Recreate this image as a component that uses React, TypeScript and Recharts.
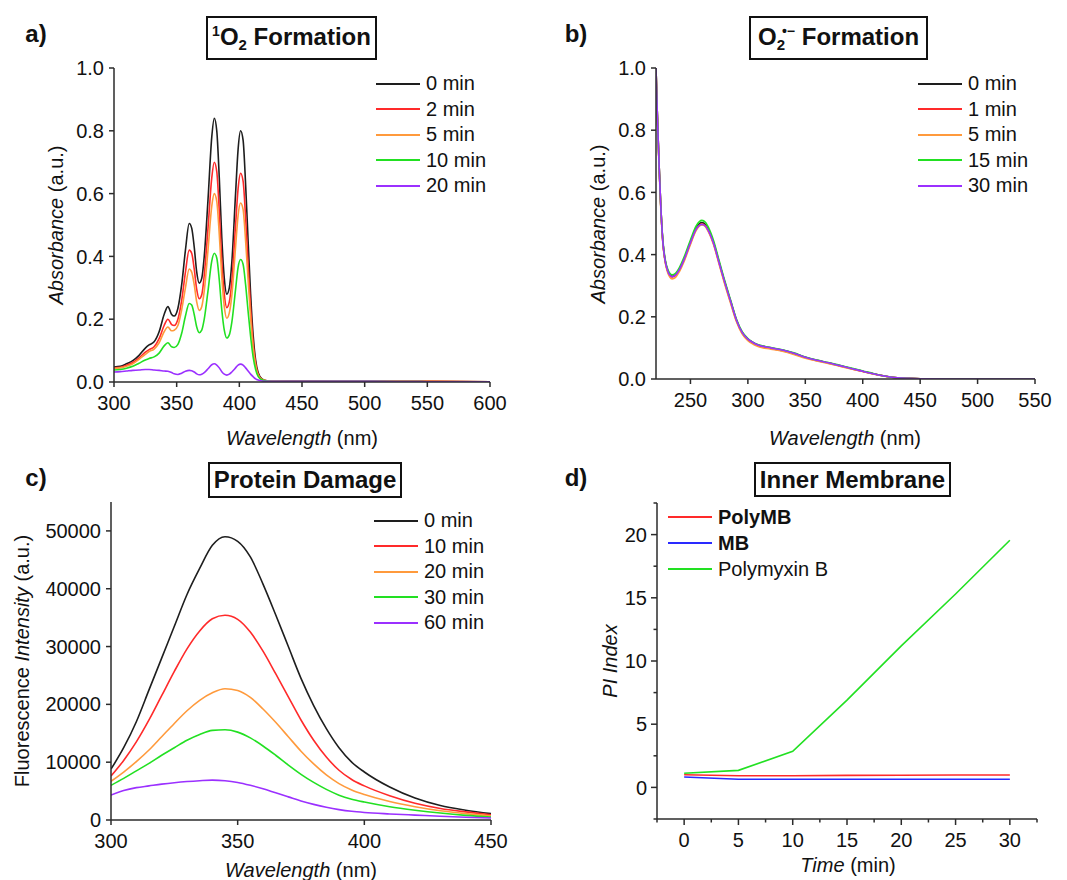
import React from "react";
import { LineChart, Line, XAxis, YAxis, Legend } from "recharts";

const FONT = '"Liberation Sans", Arial, Helvetica, sans-serif';
const AX = "#2b2b2b";

// ---------- a) 1O2 formation ----------
const A_WL = [300, 305, 310, 315, 320, 325, 328, 332, 336, 340, 343, 346, 348, 351, 354, 357, 360, 362, 364, 366, 368, 370, 372, 375, 378, 380, 382, 384, 386, 388, 390, 392, 394, 397, 399, 401, 403, 405, 407, 409, 411, 413, 415, 418, 422, 430, 450, 500, 550, 600];
const A_T0 = [0.048, 0.05, 0.058, 0.068, 0.085, 0.108, 0.118, 0.128, 0.16, 0.215, 0.24, 0.215, 0.21, 0.235, 0.31, 0.42, 0.505, 0.49, 0.43, 0.35, 0.315, 0.33, 0.4, 0.58, 0.78, 0.84, 0.8, 0.65, 0.46, 0.33, 0.28, 0.3, 0.38, 0.6, 0.74, 0.8, 0.77, 0.63, 0.45, 0.28, 0.15, 0.07, 0.03, 0.01, 0.004, 0.003, 0.003, 0.002, 0.002, 0.001];
const A_T2 = [0.045, 0.047, 0.053, 0.062, 0.077, 0.095, 0.103, 0.112, 0.138, 0.18, 0.2, 0.183, 0.18, 0.2, 0.26, 0.35, 0.42, 0.41, 0.36, 0.295, 0.265, 0.278, 0.34, 0.49, 0.65, 0.7, 0.67, 0.545, 0.385, 0.28, 0.237, 0.255, 0.32, 0.5, 0.615, 0.665, 0.64, 0.525, 0.375, 0.235, 0.125, 0.06, 0.025, 0.009, 0.004, 0.003, 0.003, 0.002, 0.002, 0.001];
const A_T5 = [0.043, 0.045, 0.05, 0.058, 0.072, 0.088, 0.097, 0.105, 0.125, 0.16, 0.175, 0.163, 0.165, 0.18, 0.23, 0.3, 0.36, 0.35, 0.31, 0.255, 0.228, 0.24, 0.29, 0.42, 0.56, 0.6, 0.575, 0.47, 0.335, 0.24, 0.203, 0.22, 0.275, 0.43, 0.53, 0.57, 0.55, 0.45, 0.325, 0.205, 0.11, 0.052, 0.022, 0.008, 0.004, 0.003, 0.002, 0.002, 0.002, 0.001];
const A_T10 = [0.038, 0.04, 0.044, 0.05, 0.06, 0.07, 0.075, 0.08, 0.092, 0.115, 0.125, 0.112, 0.11, 0.12, 0.155, 0.21, 0.25, 0.245, 0.215, 0.175, 0.157, 0.165, 0.2, 0.29, 0.385, 0.41, 0.395, 0.325, 0.23, 0.165, 0.14, 0.15, 0.19, 0.295, 0.365, 0.39, 0.375, 0.31, 0.225, 0.145, 0.08, 0.04, 0.018, 0.007, 0.003, 0.002, 0.002, 0.002, 0.001, 0.001];
const A_T20 = [0.032, 0.033, 0.035, 0.037, 0.038, 0.04, 0.04, 0.038, 0.037, 0.035, 0.034, 0.03, 0.026, 0.024, 0.028, 0.034, 0.037, 0.036, 0.032, 0.026, 0.023, 0.025, 0.03, 0.042, 0.055, 0.058, 0.054, 0.045, 0.033, 0.025, 0.022, 0.025, 0.032, 0.045, 0.054, 0.057, 0.054, 0.045, 0.035, 0.025, 0.017, 0.01, 0.006, 0.003, 0.002, 0.002, 0.002, 0.002, 0.001, 0.001];
const A_LABELS = ["0 min", "2 min", "5 min", "10 min", "20 min"];
const A_XTICKS = [300, 350, 400, 450, 500, 550, 600];

// ---------- b) O2•− formation ----------
const B_WL = [220, 221, 222, 223, 224, 226, 228, 230, 232, 234, 237, 240, 245, 250, 255, 260, 263, 265, 270, 275, 280, 285, 290, 295, 300, 305, 310, 320, 330, 340, 350, 360, 370, 380, 390, 400, 410, 420, 430, 440, 450, 500, 550];
const B_T0 = [1.0, 0.87, 0.76, 0.66, 0.57, 0.44, 0.38, 0.35, 0.335, 0.33, 0.335, 0.35, 0.39, 0.44, 0.485, 0.503, 0.497, 0.485, 0.44, 0.375, 0.31, 0.25, 0.19, 0.15, 0.128, 0.116, 0.108, 0.1, 0.093, 0.083, 0.07, 0.06, 0.052, 0.043, 0.034, 0.025, 0.016, 0.009, 0.004, 0.002, 0.001, 0.0, 0.0];
const B_T1 = [1.0, 0.87, 0.76, 0.66, 0.57, 0.44, 0.38, 0.349, 0.333, 0.328, 0.333, 0.348, 0.388, 0.437, 0.481, 0.498, 0.493, 0.481, 0.437, 0.372, 0.307, 0.247, 0.188, 0.148, 0.126, 0.114, 0.106, 0.098, 0.091, 0.081, 0.069, 0.059, 0.051, 0.042, 0.033, 0.024, 0.016, 0.009, 0.004, 0.002, 0.001, 0.0, 0.0];
const B_T5 = [1.0, 0.86, 0.75, 0.65, 0.56, 0.435, 0.375, 0.344, 0.328, 0.322, 0.327, 0.343, 0.383, 0.433, 0.478, 0.495, 0.49, 0.478, 0.433, 0.368, 0.303, 0.243, 0.185, 0.145, 0.123, 0.111, 0.103, 0.096, 0.089, 0.079, 0.067, 0.058, 0.05, 0.041, 0.032, 0.024, 0.015, 0.008, 0.004, 0.002, 0.001, 0.0, 0.0];
const B_T15 = [1.0, 0.87, 0.76, 0.66, 0.57, 0.445, 0.385, 0.355, 0.34, 0.335, 0.34, 0.356, 0.397, 0.447, 0.492, 0.51, 0.504, 0.492, 0.446, 0.38, 0.314, 0.253, 0.193, 0.152, 0.13, 0.117, 0.109, 0.101, 0.094, 0.084, 0.071, 0.061, 0.053, 0.044, 0.035, 0.026, 0.017, 0.009, 0.004, 0.002, 0.001, 0.0, 0.0];
const B_T30 = [1.0, 0.87, 0.76, 0.66, 0.57, 0.44, 0.38, 0.35, 0.334, 0.329, 0.334, 0.349, 0.389, 0.438, 0.482, 0.497, 0.492, 0.481, 0.437, 0.373, 0.309, 0.249, 0.19, 0.15, 0.128, 0.116, 0.108, 0.1, 0.093, 0.083, 0.07, 0.06, 0.052, 0.043, 0.034, 0.025, 0.016, 0.009, 0.004, 0.002, 0.001, 0.0, 0.0];
const B_LABELS = ["0 min", "1 min", "5 min", "15 min", "30 min"];
const B_XTICKS = [250, 300, 350, 400, 450, 500, 550];

const ABS_YTICKS = [0, 0.2, 0.4, 0.6, 0.8, 1.0];

// ---------- c) protein damage ----------
const C_WL = [300, 305, 310, 315, 320, 325, 330, 335, 340, 345, 350, 355, 360, 365, 370, 375, 380, 385, 390, 395, 400, 410, 420, 430, 440, 450];
const C_T0 = [8800, 12500, 17000, 22500, 28000, 33500, 39000, 43500, 47500, 49000, 48200, 45500, 40800, 35500, 30000, 24500, 19800, 15800, 12500, 10000, 8300, 5700, 3800, 2500, 1700, 1100];
const C_T10 = [7600, 10300, 13500, 17300, 21500, 25700, 29600, 32700, 34800, 35400, 34700, 32500, 29200, 25300, 21300, 17300, 13800, 10900, 8600, 7000, 5900, 4200, 2900, 2000, 1400, 900];
const C_T20 = [6700, 8300, 10100, 12100, 14400, 16700, 18900, 20700, 22000, 22700, 22400, 21200, 19200, 16900, 14400, 11900, 9700, 7800, 6300, 5200, 4400, 3200, 2300, 1600, 1100, 700];
const C_T30 = [6000, 7200, 8500, 9800, 11200, 12500, 13800, 14800, 15500, 15600, 15200, 14200, 12800, 11200, 9500, 7900, 6500, 5300, 4300, 3600, 3100, 2300, 1700, 1200, 800, 500];
const C_T60 = [4300, 5100, 5600, 5900, 6200, 6450, 6650, 6800, 6900, 6800, 6500, 6000, 5400, 4700, 4000, 3300, 2700, 2200, 1800, 1500, 1300, 1050, 850, 650, 480, 350];
const C_LABELS = ["0 min", "10 min", "20 min", "30 min", "60 min"];
const C_XTICKS = [300, 350, 400, 450];
const C_YTICKS = [0, 10000, 20000, 30000, 40000, 50000];

// ---------- d) inner membrane ----------
const D_TIME = [0, 5, 10, 15, 20, 25, 30];
const D_POLYMB = [1.0, 0.92, 0.92, 0.95, 0.96, 0.98, 0.98];
const D_MB = [0.82, 0.65, 0.64, 0.64, 0.64, 0.64, 0.64];
const D_POLYMYXIN = [1.12, 1.35, 2.85, 6.9, 11.2, 15.3, 19.55];
const D_LABELS = ["PolyMB", "MB", "Polymyxin B"];
const D_BOLD = ["PolyMB", "MB"];
const D_XTICKS = [-2.5, 0, 2.5, 5, 7.5, 10, 12.5, 15, 17.5, 20, 22.5, 25, 27.5, 30, 32.5];
const D_YTICKS = [-2.5, 0, 2.5, 5, 7.5, 10, 12.5, 15, 17.5, 20, 22.5];

const SPEC_COLORS = ["#1e1e1e", "#ff2a2a", "#ff9a3c", "#22e022", "#9b30ff"];
const D_COLORS = ["#ff2a2a", "#2a2aff", "#22e022"];

const toRows = (x: number[], series: number[][], xKey: string) =>
  x.map((v, i) => {
    const row: Record<string, number> = { [xKey]: v };
    series.forEach((s, k) => (row["s" + k] = s[i]));
    return row;
  });

const aData = toRows(A_WL, [A_T0, A_T2, A_T5, A_T10, A_T20], "wl");
const bData = toRows(B_WL, [B_T0, B_T1, B_T5, B_T15, B_T30], "wl");
const cData = toRows(C_WL, [C_T0, C_T10, C_T20, C_T30, C_T60], "wl");
const dData = toRows(D_TIME, [D_POLYMB, D_MB, D_POLYMYXIN], "t");

const tickStyle = { fontSize: 20, fill: "#111", fontFamily: FONT };
const axisLine = { stroke: AX, strokeWidth: 1.5 };
const tickLine = { stroke: AX, strokeWidth: 1.5 };

function LegendList({ labels, colors, rowH, bold = [] }: { labels: string[]; colors: string[]; rowH: number; bold?: string[] }) {
  return (
    <div style={{ fontFamily: FONT, fontSize: 20, color: "#111" }}>
      {labels.map((l, i) => (
        <div key={l} style={{ display: "flex", alignItems: "center", height: rowH, whiteSpace: "nowrap" }}>
          <span style={{ display: "inline-block", width: 44, borderTop: `2px solid ${colors[i]}`, marginRight: 6 }} />
          <span style={{ fontWeight: bold.includes(l) ? 700 : 400 }}>{l}</span>
        </div>
      ))}
    </div>
  );
}

function Txt({ x, y, rotate, size = 20, bold, children }: any) {
  return (
    <div
      style={{
        position: "absolute",
        left: x,
        top: y,
        transform: `translate(-50%, -50%)${rotate ? " rotate(-90deg)" : ""}`,
        whiteSpace: "nowrap",
        fontSize: size,
        fontWeight: bold ? 700 : 400,
        fontFamily: FONT,
        color: "#111",
        lineHeight: 1,
      }}
    >
      {children}
    </div>
  );
}

function TitleBox({ left, top, width, height, children }: any) {
  return (
    <div
      style={{
        position: "absolute",
        left,
        top,
        width,
        height,
        boxSizing: "border-box",
        border: "2.5px solid #111",
        display: "flex",
        alignItems: "center",
        justifyContent: "center",
        fontFamily: FONT,
        fontWeight: 700,
        fontSize: 24,
        color: "#111",
        background: "#fff",
      }}
    >
      {children}
    </div>
  );
}

const DTickX = (props: any) => {
  const { x, y, payload } = props;
  const v = payload.value;
  const major = Math.abs(v % 5) < 1e-6;
  return (
    <g>
      <line x1={x} x2={x} y1={y} y2={y + (major ? 6 : 3.5)} stroke={AX} strokeWidth={1.5} />
      {major && (
        <text x={x} y={y + 14} dy="0.71em" textAnchor="middle" {...tickStyle}>
          {v}
        </text>
      )}
    </g>
  );
};

const DTickY = (props: any) => {
  const { x, y, payload } = props;
  const v = payload.value;
  const major = Math.abs(v % 5) < 1e-6;
  return (
    <g>
      <line x1={x} x2={x - (major ? 6 : 3.5)} y1={y} y2={y} stroke={AX} strokeWidth={1.5} />
      {major && (
        <text x={x - 10} y={y} dy="0.355em" textAnchor="end" {...tickStyle}>
          {v}
        </text>
      )}
    </g>
  );
};

function SpectrumPanel({ data, labels, xDomain, xTicks, yDomain, yTicks, yFmt, yWidth, margin, legendPos, width, height }: any) {
  return (
    <LineChart width={width} height={height} data={data} margin={margin}>
      <XAxis
        dataKey="wl"
        type="number"
        domain={xDomain}
        ticks={xTicks}
        interval={0}
        allowDataOverflow
        tick={tickStyle}
        tickSize={5}
        tickMargin={9}
        axisLine={axisLine}
        tickLine={tickLine}
        height={30}
      />
      <XAxis xAxisId="top" orientation="top" dataKey="wl" type="number" domain={xDomain} tick={false} tickLine={false} axisLine={axisLine} height={0} />
      <YAxis
        type="number"
        domain={yDomain}
        ticks={yTicks}
        interval={0}
        allowDataOverflow
        tickFormatter={yFmt}
        tick={tickStyle}
        tickSize={5}
        tickMargin={5}
        axisLine={axisLine}
        tickLine={tickLine}
        width={yWidth}
      />
      <YAxis yAxisId="right" orientation="right" type="number" domain={yDomain} tick={false} tickLine={false} axisLine={axisLine} width={0} />
      {labels.map((l: string, i: number) => (
        <Line key={l} dataKey={"s" + i} name={l} type="monotone" stroke={SPEC_COLORS[i]} strokeWidth={1.6} dot={false} isAnimationActive={false} />
      ))}
      <Legend
        layout="horizontal"
        verticalAlign="middle"
        align="center"
        wrapperStyle={{ left: legendPos[0], top: legendPos[1], width: "auto" }}
        content={() => <LegendList labels={labels} colors={SPEC_COLORS} rowH={25.5} />}
      />
    </LineChart>
  );
}

export default function App() {
  return (
    <div style={{ position: "absolute", left: 0, top: 0, width: 1067, height: 880, background: "#fff", overflow: "hidden" }}>
      {/* a */}
      <div style={{ position: "absolute", left: 0, top: 0 }}>
        <SpectrumPanel
          width={540}
          height={440}
          data={aData}
          labels={A_LABELS}
          xDomain={[300, 600]}
          xTicks={A_XTICKS}
          yDomain={[0, 1]}
          yTicks={ABS_YTICKS}
          yFmt={(v: number) => v.toFixed(1)}
          yWidth={60}
          margin={{ top: 68, right: 50, bottom: 28, left: 54 }}
          legendPos={[376, 71]}
        />
      </div>
      {/* b */}
      <div style={{ position: "absolute", left: 530, top: 0 }}>
        <SpectrumPanel
          width={537}
          height={440}
          data={bData}
          labels={B_LABELS}
          xDomain={[220, 550]}
          xTicks={B_XTICKS}
          yDomain={[0, 1]}
          yTicks={ABS_YTICKS}
          yFmt={(v: number) => v.toFixed(1)}
          yWidth={60}
          margin={{ top: 68, right: 32, bottom: 31, left: 66 }}
          legendPos={[388, 71]}
        />
      </div>
      {/* c */}
      <div style={{ position: "absolute", left: 0, top: 440 }}>
        <SpectrumPanel
          width={540}
          height={440}
          data={cData}
          labels={C_LABELS}
          xDomain={[300, 450]}
          xTicks={C_XTICKS}
          yDomain={[0, 55000]}
          yTicks={C_YTICKS}
          yFmt={(v: number) => String(v)}
          yWidth={70}
          margin={{ top: 62, right: 49, bottom: 30, left: 41 }}
          legendPos={[374, 68]}
        />
      </div>
      {/* d */}
      <div style={{ position: "absolute", left: 530, top: 440 }}>
        <LineChart width={537} height={440} data={dData} margin={{ top: 63, right: 30, bottom: 31, left: 67 }}>
          <XAxis
            dataKey="t"
            type="number"
            domain={[-2.5, 32.5]}
            ticks={D_XTICKS}
            interval={0}
            tick={<DTickX />}
            tickSize={0}
            tickMargin={0}
            tickLine={false}
            axisLine={axisLine}
            height={30}
          />
          <YAxis
            type="number"
            domain={[-2.5, 22.5]}
            ticks={D_YTICKS}
            interval={0}
            tick={<DTickY />}
            tickSize={0}
            tickMargin={0}
            tickLine={false}
            axisLine={axisLine}
            width={60}
          />
          {D_LABELS.map((l, i) => (
            <Line key={l} dataKey={"s" + i} name={l} type="linear" stroke={D_COLORS[i]} strokeWidth={1.6} dot={false} isAnimationActive={false} />
          ))}
          <Legend
            layout="horizontal"
            verticalAlign="middle"
            align="center"
            wrapperStyle={{ left: 138, top: 64, width: "auto" }}
            content={() => <LegendList labels={D_LABELS} colors={D_COLORS} rowH={26} bold={D_BOLD} />}
          />
        </LineChart>
      </div>

      {/* panel letters */}
      <Txt x={36} y={34} size={24} bold>a)</Txt>
      <Txt x={576} y={34} size={24} bold>b)</Txt>
      <Txt x={36} y={478} size={24} bold>c)</Txt>
      <Txt x={576} y={478} size={24} bold>d)</Txt>

      {/* titles */}
      <TitleBox left={206} top={16} width={171} height={44}>
        <span>
          <sup style={{ fontSize: 14, verticalAlign: "9px" }}>1</sup>O<sub style={{ fontSize: 15, verticalAlign: "-5px" }}>2</sub> Formation
        </span>
      </TitleBox>
      <TitleBox left={749} top={16} width={179} height={44}>
        <span>
          O<sub style={{ fontSize: 15, verticalAlign: "-5px" }}>2</sub>
          <sup style={{ fontSize: 14, verticalAlign: "9px", marginLeft: -3 }}>•−</sup> Formation
        </span>
      </TitleBox>
      <TitleBox left={208} top={462} width={194} height={36}>Protein Damage</TitleBox>
      <TitleBox left={754} top={462} width={197} height={35}>Inner Membrane</TitleBox>

      {/* axis titles */}
      <Txt x={302} y={438}>
        <i>Wavelength</i> (nm)
      </Txt>
      <Txt x={56} y={225} rotate>
        <i>Absorbance</i> (a.u.)
      </Txt>
      <Txt x={845} y={438}>
        <i>Wavelength</i> (nm)
      </Txt>
      <Txt x={598} y={224} rotate>
        <i>Absorbance</i> (a.u.)
      </Txt>
      <Txt x={301} y={870}>
        <i>Wavelength</i> (nm)
      </Txt>
      <Txt x={22} y={661} rotate>
        Fluorescence <i>Intensity</i> (a.u.)
      </Txt>
      <Txt x={848} y={865}>
        <i>Time</i> (min)
      </Txt>
      <Txt x={610} y={661} rotate>
        <i>PI Index</i>
      </Txt>
    </div>
  );
}
